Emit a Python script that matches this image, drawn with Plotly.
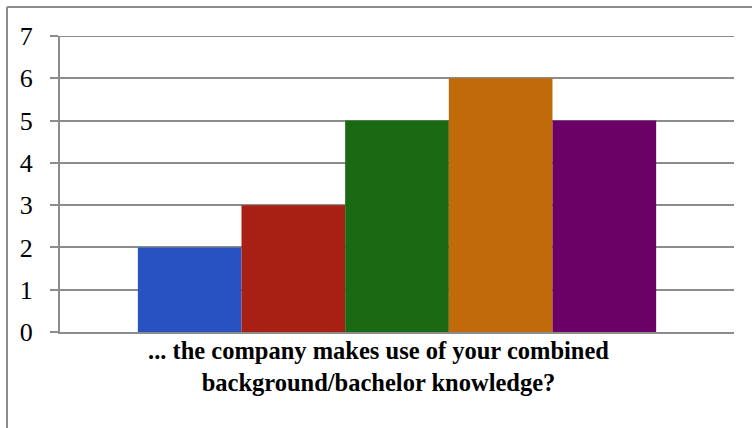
import plotly.graph_objects as go

# Survey question (single category on the x axis)
question = ["... the company makes use of your combined<br>background/bachelor knowledge?"]

# One series per answer option, left to right
series_names = ["Answer 1", "Answer 2", "Answer 3", "Answer 4", "Answer 5"]
series_values = [2, 3, 5, 6, 5]
series_colors = ["#2852C0", "#A81F14", "#1A6A14", "#C06A0A", "#6B0067"]

y_ticks = [0, 1, 2, 3, 4, 5, 6, 7]

fig = go.Figure()
for name, val, col in zip(series_names, series_values, series_colors):
    fig.add_trace(go.Bar(
        name=name, x=question, y=[val],
        marker=dict(color=col, line=dict(width=0)),
    ))

grid_col = "#8C8C8C"
fig.update_layout(
    width=752, height=428,
    margin=dict(l=60, r=18, t=36, b=96),
    paper_bgcolor="white", plot_bgcolor="white",
    barmode="group", bargap=0.231, bargroupgap=0,
    showlegend=False,
    font=dict(family="Liberation Serif", color="black"),
    xaxis=dict(
        type="category",
        showgrid=False,
        showline=True, linecolor=grid_col, linewidth=2,
        ticks="", showticklabels=False,
    ),
    yaxis=dict(
        range=[0, 7], tickvals=y_ticks,
        showgrid=True, gridcolor=grid_col, gridwidth=2,
        showline=True, linecolor=grid_col, linewidth=2,
        ticks="outside", ticklen=8, tickcolor=grid_col, tickwidth=2,
        ticklabelstandoff=12,
        tickfont=dict(family="Liberation Serif", size=26, color="black"),
        zeroline=False,
    ),
)

# Top gridline at the upper end of the value range
fig.add_shape(type="line", xref="paper", yref="y",
              x0=0, x1=1, y0=y_ticks[-1], y1=y_ticks[-1],
              line=dict(color=grid_col, width=2))

# Category label under the bars
fig.add_annotation(
    text=question[0], xref="paper", yref="paper",
    x=(378 - 60) / 674, y=-(335 - 332) / 296,
    xanchor="center", yanchor="top", showarrow=False,
    align="center",
    font=dict(family="Liberation Serif", size=24.5, weight="bold", color="black"),
)

# Chart frame: left and top edges of the surrounding box
frame_x0 = (7 - 60) / 674
frame_top = (332 - 7) / 296
frame_bottom = (332 - 440) / 296
frame_right = (760 - 60) / 674
fig.add_shape(type="line", xref="paper", yref="paper",
              x0=frame_x0, x1=frame_x0, y0=frame_bottom, y1=frame_top,
              line=dict(color=grid_col, width=2))
fig.add_shape(type="line", xref="paper", yref="paper",
              x0=frame_x0, x1=frame_right, y0=frame_top, y1=frame_top,
              line=dict(color=grid_col, width=2))

fig.write_html("out.html")
